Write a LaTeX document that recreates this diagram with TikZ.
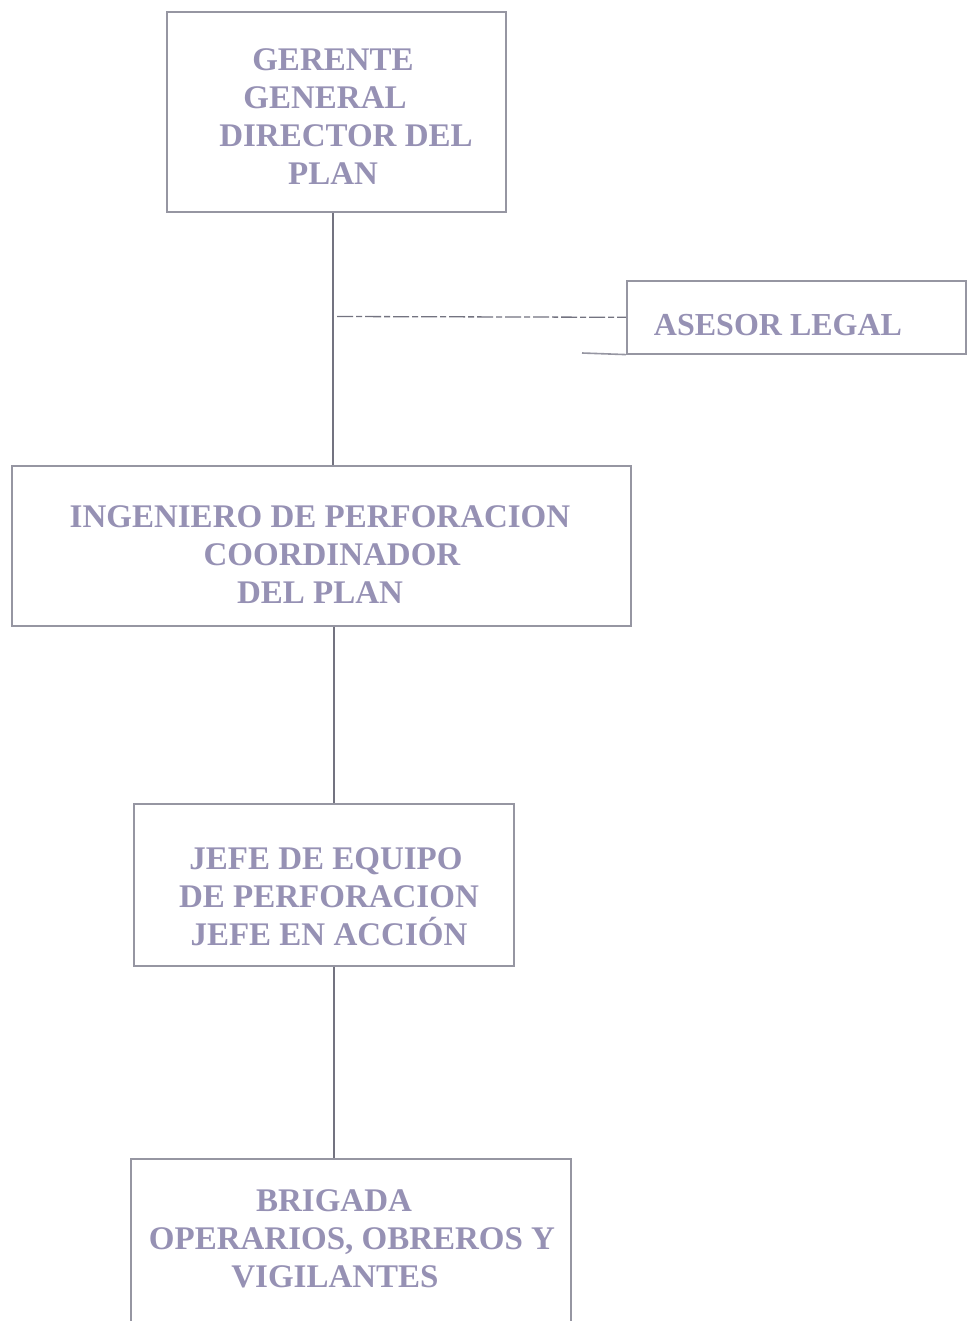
\documentclass[tikz,border=0pt]{standalone}
\usepackage{fontspec}
\setmainfont{Liberation Serif}
\definecolor{txt}{RGB}{150,145,180}
\definecolor{boxline}{RGB}{150,150,162}
\definecolor{conline}{RGB}{115,115,128}
\tikzset{
  x=1pt, y=-1pt,
  orgbox/.style={draw=boxline, line width=1.6pt, rectangle, anchor=north west, inner sep=0pt},
  lbl/.style={text=txt, font=\bfseries\fontsize{33}{38}\selectfont, align=center, inner sep=0pt},
  conn/.style={draw=conline, line width=1.5pt},
  dashconn/.style={draw=conline, line width=1.3pt, dash pattern=on 16pt off 3pt on 6pt off 3pt}
}
\begin{document}
\begin{tikzpicture}
\useasboundingbox (0,0) rectangle (972,1321);
\clip (0,0) rectangle (972,1321);
\fill[white] (0,0) rectangle (972,1321);
% boxes
\node[orgbox, minimum width=339pt, minimum height=200pt] (gg) at (166,11) {};
\node[orgbox, minimum width=339pt, minimum height=73pt] (al) at (626,280) {};
\node[orgbox, minimum width=619pt, minimum height=160pt] (ing) at (11,465) {};
\node[orgbox, minimum width=380pt, minimum height=162pt] (jefe) at (133,803) {};
\node[orgbox, minimum width=440pt, minimum height=200pt] (brig) at (130,1158) {};
% labels
\node[lbl] (tgg) at (333,117) {GERENTE\\GENERAL\hspace*{16pt}\mbox{}\\\hspace*{26pt}DIRECTOR DEL\\PLAN};
\node[lbl, font=\bfseries\fontsize{32}{38}\selectfont] (tal) at (778,325) {ASESOR LEGAL};
\node[lbl] (ting) at (320,555) {INGENIERO DE PERFORACION\\\hspace*{24pt}COORDINADOR\\DEL PLAN};
\node[lbl] (tjefe) at (329,897) {JEFE DE EQUIPO\hspace*{6pt}\mbox{}\\DE PERFORACION\\JEFE EN ACCIÓN};
\node[lbl] (tbrig) at (352,1239) {BRIGADA\hspace*{36pt}\mbox{}\\OPERARIOS, OBREROS Y\\VIGILANTES\hspace*{34pt}\mbox{}};
% connectors
\draw[conn] (gg.south -| 333,0) -- (ing.north -| 333,0);
\coordinate (jn) at (337,316.5);
\draw[dashconn] (jn) -- (al.west);
\draw[draw=boxline, line width=1.6pt] (582,353) -- (al.south west);
\draw[conn] (ing.south -| 334,0) -- (jefe.north -| 334,0);
\draw[conn] (jefe.south -| 334,0) -- (brig.north -| 334,0);
\end{tikzpicture}
\end{document}
